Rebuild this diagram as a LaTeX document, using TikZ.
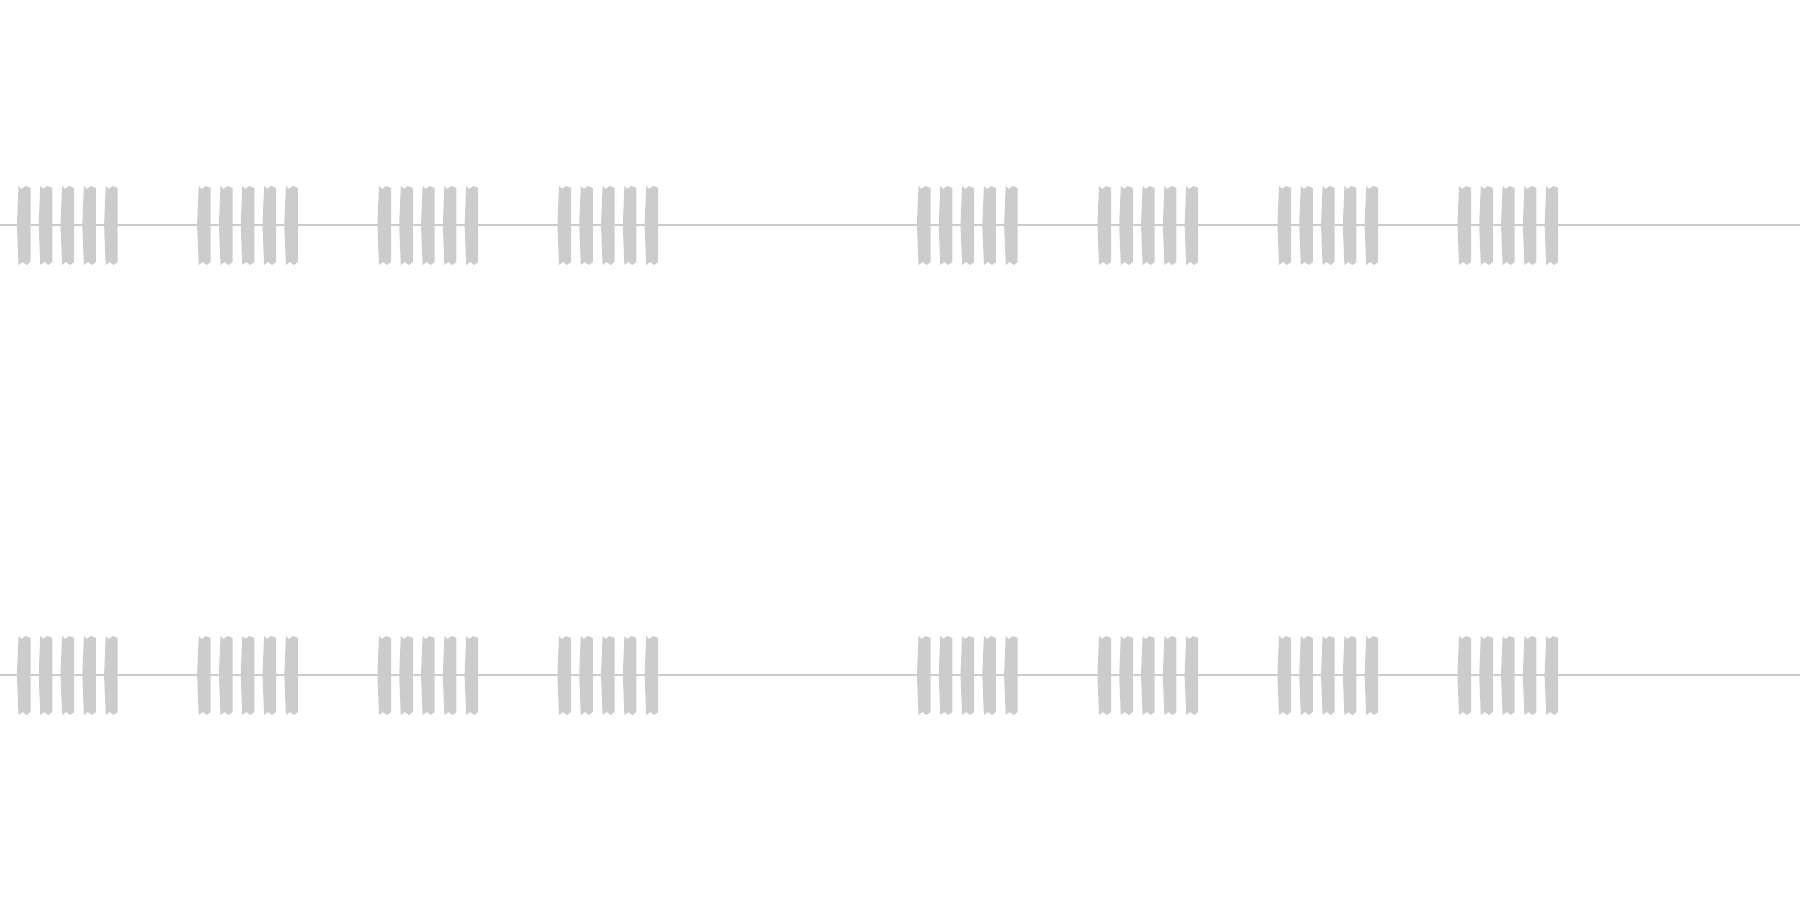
\documentclass[tikz,border=0pt]{standalone}
\usetikzlibrary{positioning}
\definecolor{wavegray}{RGB}{204,204,204}
\tikzstyle{pulse}=[fill=wavegray,draw=none]
\tikzstyle{axis}=[draw=wavegray,line width=0.5pt]
\newcommand{\newBurst}[2]{%
  \foreach \k in {0,...,4}{
    \fill[pulse] ({#1+\k*21.8},{#2-39}) -- ({#1+\k*21.8+3},{#2-36}) -- ({#1+\k*21.8+7},{#2-39})
      -- ({#1+\k*21.8+12},{#2-37}) -- ({#1+\k*21.8+12},{#2+37}) -- ({#1+\k*21.8+8},{#2+40})
      -- ({#1+\k*21.8+4},{#2+37}) -- ({#1+\k*21.8},{#2+40}) -- ({#1+\k*21.8-1.5},{#2+3})
      -- ({#1+\k*21.8-1.5},{#2-3}) -- cycle;
  }}
\begin{document}
\begin{tikzpicture}[x=0.01cm,y=-0.01cm]
    \useasboundingbox (0,0) rectangle (1800,900);
    % the two tracks
    \foreach \row/\name in {225/top,675/bottom}{
      \coordinate (\name-start) at (0,\row);
      \coordinate (\name-end) at (1800,\row);
      \draw[axis] (\name-start) -- (\name-end);
      \foreach \gx in {18.5,198.7,379,559,918.5,1099,1279,1459}{
        \newBurst{\gx}{\row}
      }
    }
\end{tikzpicture}
\end{document}
